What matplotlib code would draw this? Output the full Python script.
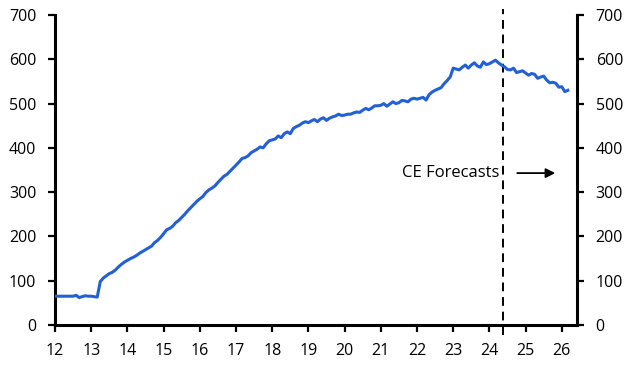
import matplotlib
matplotlib.use("Agg")
import matplotlib.pyplot as plt
import numpy as np

plt.rcParams['font.family'] = ['Open Sans', 'DejaVu Sans']

start_year = 12  # Jan 2012, monthly data
y2012 = [65, 65, 65, 65, 65, 65, 65, 67, 62, 64, 66, 65]
y2013 = [65, 64, 63, 98, 106, 111, 116, 119, 124, 131, 137, 142]
y2014 = [146, 150, 153, 157, 162, 166, 170, 174, 178, 186, 191, 198]
y2015 = [206, 215, 218, 223, 231, 236, 243, 250, 258, 265, 272, 279]
y2016 = [285, 290, 299, 305, 309, 314, 322, 329, 336, 340, 347, 354]
y2017 = [361, 368, 376, 378, 382, 389, 393, 397, 402, 400, 409, 416]
y2018 = [418, 420, 427, 423, 432, 436, 432, 444, 448, 451, 456, 459]
y2019 = [457, 461, 464, 459, 465, 468, 462, 467, 470, 472, 476, 473]
y2020 = [474, 476, 476, 479, 481, 480, 485, 489, 486, 490, 495, 495]
y2021 = [496, 500, 494, 499, 504, 500, 502, 507, 506, 504, 510, 512]
y2022 = [510, 512, 514, 508, 520, 526, 530, 533, 536, 545, 552, 560]
y2023 = [580, 578, 576, 582, 587, 580, 587, 592, 585, 582, 594, 588]
y2024 = [590, 594, 598, 592, 587, 583, 577, 576, 580, 570, 572, 574]
y2025 = [569, 564, 568, 566, 557, 560, 562, 553, 547, 548, 546, 537]
y2026 = [538, 527, 530]

forecast_start = 24.37
xticks = list(range(12, 27))
yticks = [0, 100, 200, 300, 400, 500, 600, 700]
annot_text = "CE Forecasts"

values = (y2012 + y2013 + y2014 + y2015 + y2016 + y2017 + y2018 + y2019 +
          y2020 + y2021 + y2022 + y2023 + y2024 + y2025 + y2026)
x = start_year + np.arange(len(values)) / 12.0

fig = plt.figure(figsize=(6.38, 3.72), dpi=100)
ax = fig.add_axes([55/638, 1-325/372, (577-55)/638, (325-15)/372])

ax.plot(x, values, color='#2360d5', lw=2.2, solid_joinstyle='round', zorder=3)
ax.axvline(forecast_start, ymin=-0.033, ymax=1.02, color='black', lw=1.4,
           dashes=(4.5, 3), clip_on=False, zorder=2)

ax.set_xlim(12, 26.42)
ax.set_ylim(0, 700)
ax.set_xticks(xticks)
ax.set_xticklabels([str(t) for t in xticks])
ax.set_yticks(yticks)

ax.spines['top'].set_visible(False)
for s in ['left', 'right', 'bottom']:
    ax.spines[s].set_linewidth(2.2)

ax.tick_params(axis='x', direction='out', length=5, width=1.6, labelsize=11.5, pad=8)
ax.tick_params(axis='y', direction='out', length=5, width=1.6, labelsize=11.5, pad=8.5,
               right=True, labelright=True)

ax.text(24.28, 343, annot_text, ha='right', va='center', fontsize=12)
ax.annotate('', xy=(25.82, 343), xytext=(24.77, 343),
            arrowprops=dict(arrowstyle='-|>', color='black', lw=1.3,
                            mutation_scale=14, shrinkA=0, shrinkB=0))

fig.savefig('out.png', dpi=100)
